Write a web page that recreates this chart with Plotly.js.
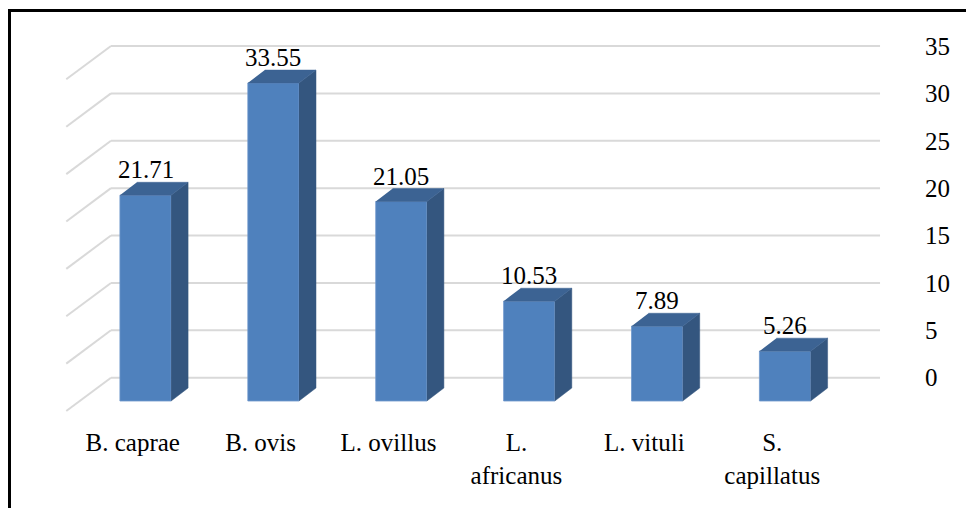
<!DOCTYPE html>
<html>
<head>
<meta charset="utf-8">
<script src="https://cdn.plot.ly/plotly-3.0.1.min.js"></script>
<style>
  html, body { margin: 0; padding: 0; background: #fff; overflow: hidden; }
  #wrap { position: relative; width: 966px; height: 508px; overflow: hidden; }
  #chart { width: 966px; height: 508px; }
  #frame { position: absolute; left: 8px; top: 9px; width: 2000px; height: 2000px;
           border-left: 3px solid #000; border-top: 3px solid #000; pointer-events: none; }
</style>
</head>
<body>
<div id="wrap">
  <div id="chart"></div>
  <div id="frame"></div>
</div>
<script>
// ---- data ----
const categories = ["B. caprae", "B. ovis", "L. ovillus", "L.<br>africanus", "L. vituli", "S.<br>capillatus"];
const values = [21.71, 33.55, 21.05, 10.53, 7.89, 5.26];
const yTickVals = [0, 5, 10, 15, 20, 25, 30, 35];
const yTickText = ["0", "5", "10", "15", "20", "25", "30", "35"];

// ---- 3D look geometry (style constants, in axis units) ----
const BAR_W = 0.4;        // front face width
const FRONT_DROP = 2.46;  // front plane sits below the back wall baseline
const DEPTH_DX = 0.133;   // bar depth (x)
const DEPTH_DY = 1.372;   // bar depth (y)
const WALL_L = -0.27, WALL_R = 5.743;      // back wall extent
const FLOOR_DX = -0.3495, FLOOR_DY = -3.514; // side wall diagonal
const LABEL_SHIFT = 0.10;
const FONT = "'Liberation Serif', 'Times New Roman', Times, 'DejaVu Serif', serif";

const xs = categories.map((c, i) => i);

// gridlines as shapes below traces
const shapes = [];
yTickVals.forEach(v => {
  shapes.push({type: 'line', xref: 'x', yref: 'y', layer: 'below',
    x0: WALL_L, x1: WALL_R, y0: v, y1: v, line: {color: '#d9d9d9', width: 2}});
  shapes.push({type: 'line', xref: 'x', yref: 'y', layer: 'below',
    x0: WALL_L, x1: WALL_L + FLOOR_DX, y0: v, y1: v + FLOOR_DY, line: {color: '#d9d9d9', width: 2}});
});

// front faces
const frontTrace = {
  type: 'bar', x: xs, y: values, base: values.map(() => -FRONT_DROP), width: BAR_W,
  marker: {color: '#4f81bd', line: {color: '#6f97cc', width: 0.8}},
  hoverinfo: 'skip', showlegend: false
};

// side faces
const sx = [], sy = [];
values.forEach((v, i) => {
  const xr = i + BAR_W / 2, b = -FRONT_DROP, t = v - FRONT_DROP;
  sx.push(xr, xr + DEPTH_DX, xr + DEPTH_DX, xr, null);
  sy.push(b, b + DEPTH_DY, t + DEPTH_DY, t, null);
});
const sideTrace = {type: 'scatter', mode: 'lines', x: sx, y: sy, fill: 'toself',
  fillcolor: '#34567f', line: {color: '#34567f', width: 0.5}, hoverinfo: 'skip', showlegend: false};

// top faces
const tx = [], ty = [];
values.forEach((v, i) => {
  const xl = i - BAR_W / 2, xr = i + BAR_W / 2, t = v - FRONT_DROP;
  tx.push(xl, xr, xr + DEPTH_DX, xl + DEPTH_DX, null);
  ty.push(t, t, t + DEPTH_DY, t + DEPTH_DY, null);
});
const topTrace = {type: 'scatter', mode: 'lines', x: tx, y: ty, fill: 'toself',
  fillcolor: '#3c6393', line: {color: '#3c6393', width: 0.5}, hoverinfo: 'skip', showlegend: false};

const annotations = values.map((v, i) => ({
  x: i, y: v - FRONT_DROP + DEPTH_DY, xref: 'x', yref: 'y',
  text: v.toFixed(2), showarrow: false, yanchor: 'bottom', yshift: -3,
  font: {family: FONT, size: 25, color: '#000'}
}));

const layout = {
  width: 966, height: 508,
  margin: {l: 0, r: 71, t: 0, b: 83},
  paper_bgcolor: '#fff', plot_bgcolor: '#fff',
  font: {family: FONT, size: 25, color: '#000'},
  showlegend: false,
  xaxis: {range: [-1.1376, 5.860], tickmode: 'array',
    tickvals: xs.map(x => x - LABEL_SHIFT), ticktext: categories,
    tickfont: {family: FONT, size: 25, color: '#000'},
    showgrid: false, zeroline: false, showline: false, ticks: '', fixedrange: true},
  yaxis: {range: [-4.991, 39.855], side: 'right', tickmode: 'array',
    tickvals: yTickVals, ticktext: yTickText, ticklabelstandoff: 29,
    tickfont: {family: FONT, size: 25, color: '#000'},
    showgrid: false, zeroline: false, showline: false, ticks: '', fixedrange: true},
  shapes: shapes,
  annotations: annotations
};

Plotly.newPlot('chart', [frontTrace, sideTrace, topTrace], layout, {displayModeBar: false, staticPlot: true});
</script>
</body>
</html>
